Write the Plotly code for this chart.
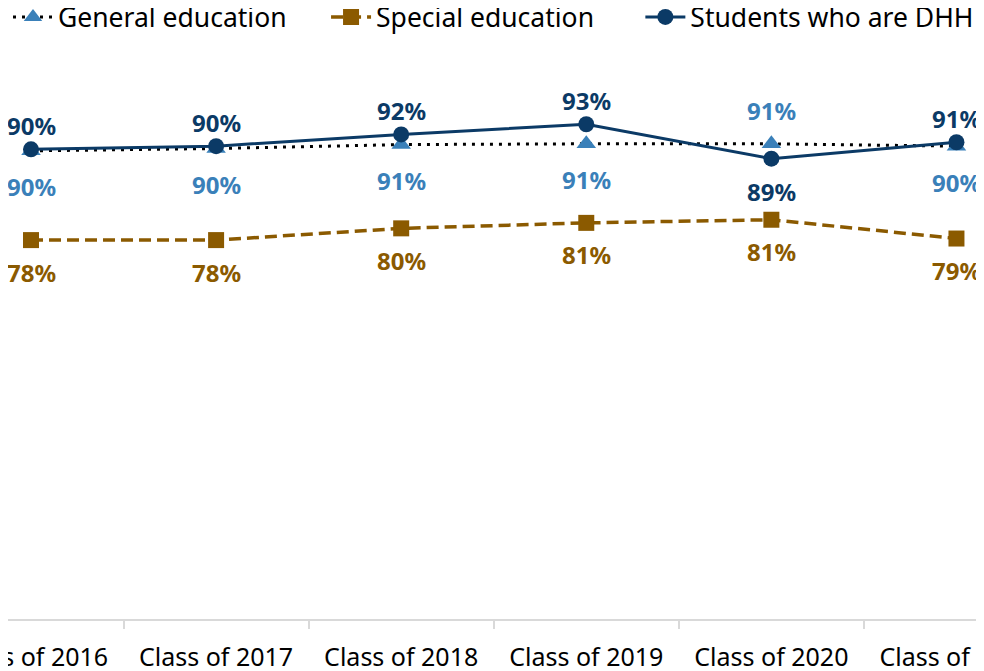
import plotly.graph_objects as go

classes = ["Class of 2016", "Class of 2017", "Class of 2018",
           "Class of 2019", "Class of 2020", "Class of 2021"]
general_ed = [89.8, 90.1, 90.6, 90.7, 90.7, 90.4]
special_ed = [78.4, 78.4, 79.9, 80.6, 81.0, 78.6]
dhh = [90.0, 90.4, 91.9, 93.2, 88.8, 90.9]

# where each series' label sits: +1 above the point, -1 below
general_side = [-1, -1, -1, -1, 1, -1]
special_side = [-1, -1, -1, -1, -1, -1]
dhh_side = [1, 1, 1, 1, -1, 1]

NAVY = "#0b3a66"
BLUE = "#3a80b9"
BROWN = "#8b5a00"

# non-breaking spaces widen the gap between legend entries
NBSP = "\u00a0"

fig = go.Figure()
fig.add_trace(go.Scatter(
    x=classes, y=general_ed, name="General education" + NBSP * 5, mode="lines+markers",
    line=dict(color="black", width=3, dash="3px,6px"),
    marker=dict(symbol="triangle-up", size=17, color=BLUE),
))
fig.add_trace(go.Scatter(
    x=classes, y=special_ed, name="Special education" + NBSP * 6, mode="lines+markers",
    line=dict(color=BROWN, width=3.5, dash="12px,6px"),
    marker=dict(symbol="square", size=16, color=BROWN),
))
fig.add_trace(go.Scatter(
    x=classes, y=dhh, name="Students who are DHH", mode="lines+markers",
    line=dict(color=NAVY, width=3),
    marker=dict(symbol="circle", size=16, color=NAVY),
))

label_font = "Noto Sans"
for vals, sides, color, up, down in [
    (general_ed, general_side, BLUE, 33, 36),
    (special_ed, special_side, BROWN, 30, 32),
    (dhh, dhh_side, NAVY, 24, 33),
]:
    for c, v, s in zip(classes, vals, sides):
        fig.add_annotation(
            x=c, y=v, text=f"<b>{round(v)}%</b>", showarrow=False,
            yshift=up if s > 0 else -down,
            font=dict(family=label_font, size=24, color=color),
        )

# the chart is cut at both sides, so the axis runs past the page edges
fig.update_xaxes(
    type="category", range=[-0.1243, 5.192], automargin=False,
    showline=True, linecolor="#d9d9d9", linewidth=1.5,
    ticks="outside", tickson="boundaries", ticklen=8, tickcolor="#d9d9d9",
    tickwidth=1.5, showgrid=False, tickangle=0, ticklabelstandoff=15,
    tickfont=dict(family="Noto Sans", size=25, color="black"),
)
fig.update_yaxes(range=[30, 100], visible=False, showgrid=False, automargin=False)

fig.update_layout(
    width=984, height=671,
    margin=dict(l=0, r=0, t=63, b=60, autoexpand=False),
    plot_bgcolor="white", paper_bgcolor="white",
    legend=dict(orientation="h", x=0, xanchor="left", y=1.142, yref="paper",
                yanchor="top", font=dict(family="Noto Sans", size=26.5, color="black"),
                itemwidth=40, traceorder="normal"),
    showlegend=True,
)

fig.write_html("out.html")
